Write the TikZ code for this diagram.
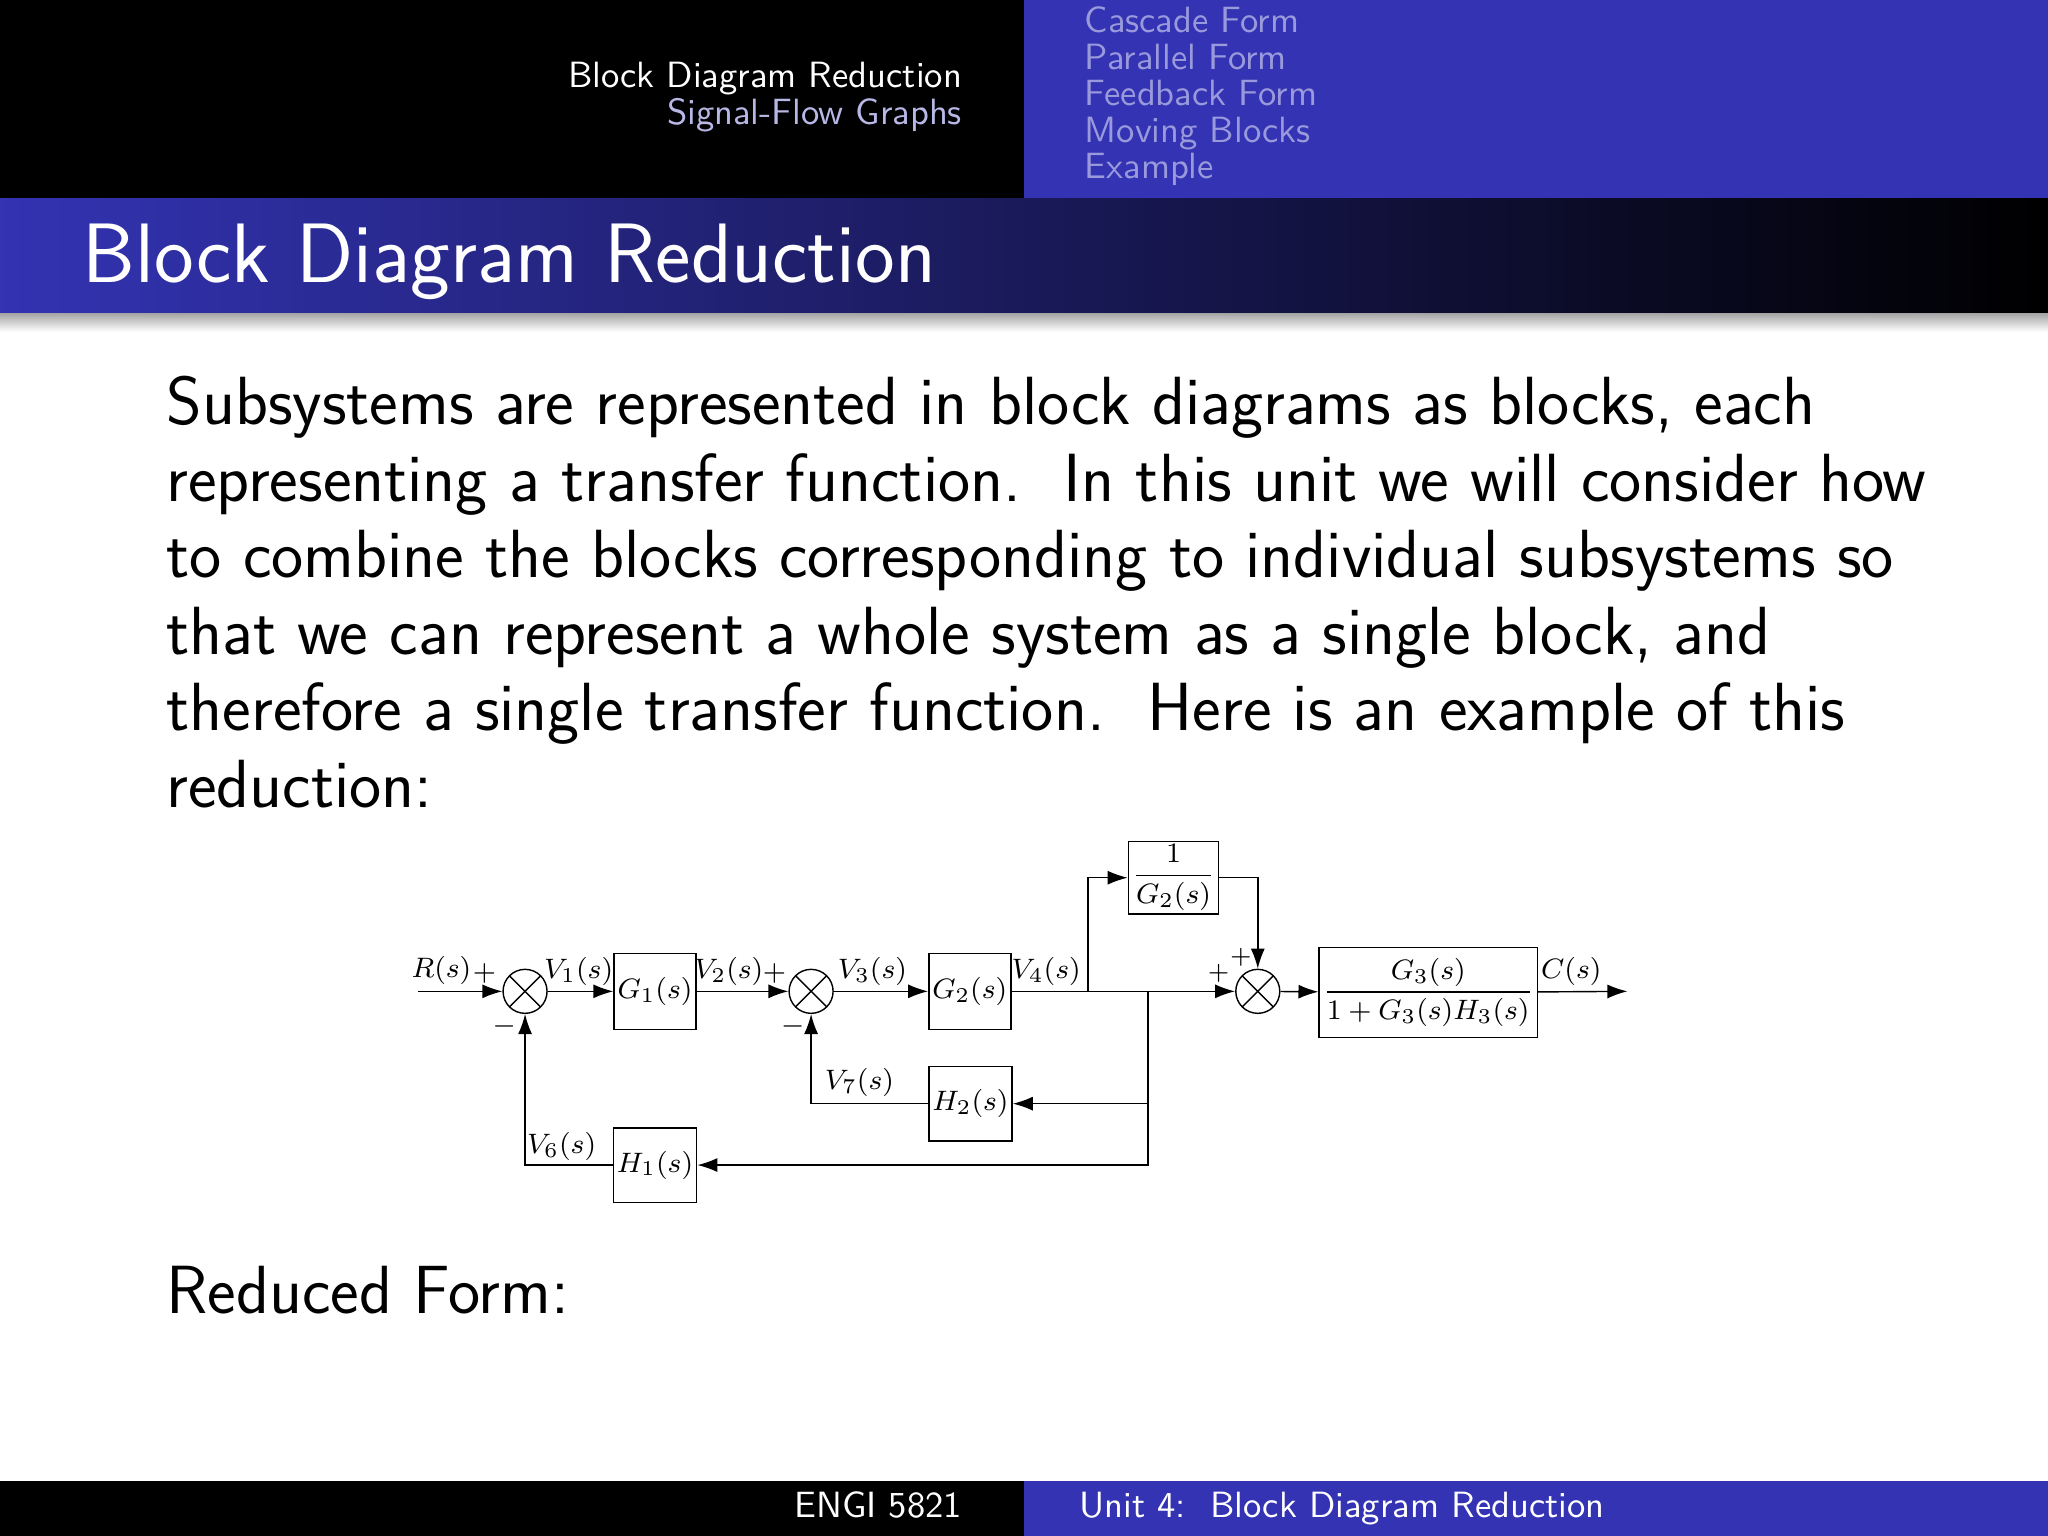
\documentclass[tikz,border=0pt]{standalone}
\usepackage{fontspec}
\setmainfont{Latin Modern Sans}
\usetikzlibrary{arrows.meta}
\definecolor{bblue}{RGB}{51,51,179}
\definecolor{lblue}{RGB}{153,153,220}
\begin{document}
\begin{tikzpicture}[x=0.013061cm,y=-0.013061cm,
  blk/.style={draw,fill=white,inner sep=1pt,font=\fontsize{8.5}{10}\selectfont},
  sumj/.style={draw,circle,minimum size=0.44cm,inner sep=0pt,
     path picture={\draw (path picture bounding box.north west)--(path picture bounding box.south east)
       (path picture bounding box.north east)--(path picture bounding box.south west);}},
  lab/.style={font=\fontsize{8.5}{10}\selectfont,inner sep=0pt},
  sg/.style={font=\fontsize{7}{8}\selectfont,inner sep=0pt},
  ar/.style={-{Latex[length=2mm,width=1.4mm]}},
  hd/.style={font=\fontsize{10.4}{12}\selectfont},
  bd/.style={font=\fontsize{19.4}{23}\selectfont,anchor=base west}]
\useasboundingbox (0,0) rectangle (1568,1176);
\fill[white] (0,0) rectangle (1568,1176);
% header
\fill[black] (0,0) rectangle (784,152);
\fill[bblue] (784,0) rectangle (1568,152);
\node[hd,white,anchor=base east] (h1) at (746,67) {Block Diagram Reduction};
\node[hd,lblue!70!white,anchor=base east] (h2) at (746,95) {Signal-Flow Graphs};
\foreach \t [count=\i] in {Cascade Form,Parallel Form,Feedback Form,Moving Blocks,Example}
  \node[hd,lblue,anchor=base west] (m\i) at (821,{-3+28*\i}) {\t};
% title bar
\shade[left color=bblue,right color=black] (0,152) rectangle (1568,240);
\shade[top color=black!35,bottom color=white] (0,240) rectangle (1568,254);
\node[font=\fontsize{24}{28}\selectfont,white,anchor=base west] (title) at (54,216) {Block Diagram Reduction};
% body
\foreach \t [count=\i] in {{Subsystems are represented in block diagrams as blocks, each},
 {representing a transfer function.\ \ In this unit we will consider how},
 {to combine the blocks corresponding to individual subsystems so},
 {that we can represent a whole system as a single block, and},
 {therefore a single transfer function.\ \ Here is an example of this},
 {reduction:}}
 \node[bd] (b\i) at (118,{325+58.6*(\i-1)}) {\t};
\node[bd] (rf) at (118,1006) {Reduced Form:};
% footer
\fill[black] (0,1134) rectangle (784,1176);
\fill[bblue] (784,1134) rectangle (1568,1176);
\node[hd,white,anchor=base east] (f1) at (746,1162) {ENGI 5821};
\node[hd,white,anchor=base west] (f2) at (817,1162) {Unit 4:\ \ Block Diagram Reduction};
% diagram
\coordinate (in) at (320,759);
\node[sumj] (s1) at (402,759) {};
\node[blk,minimum width=0.77cm,minimum height=0.76cm] (g1) at (501.5,759) {$G_1(s)$};
\node[sumj] (s2) at (621,759) {};
\node[blk,minimum width=0.77cm,minimum height=0.76cm] (g2) at (742.5,759) {$G_2(s)$};
\node[blk,minimum width=0.875cm,minimum height=0.705cm] (ig) at (898.5,672) {$\displaystyle\frac{1}{G_2(s)}$};
\node[sumj] (s3) at (963,759) {};
\node[blk,minimum width=1.84cm,minimum height=0.9cm] (g3) at (1093.5,760) {$\displaystyle\frac{G_3(s)}{1+G_3(s)H_3(s)}$};
\coordinate (out) at (1246,759);
\node[blk,minimum width=0.76cm,minimum height=0.745cm] (h2) at (743,845) {$H_2(s)$};
\node[blk,minimum width=0.77cm,minimum height=0.745cm] (h1) at (501.5,892) {$H_1(s)$};
\coordinate (br) at (833,759);
\coordinate (tp) at (879,759);
\draw[ar] (in)--(s1);
\draw[ar] (s1)--(g1);
\draw[ar] (g1)--(s2);
\draw[ar] (s2)--(g2);
\draw[ar] (g2)--(s3);
\draw[ar] (br)|-(ig);
\draw[ar] (ig.east)-|(s3.north);
\draw[ar] (s3)--(g3);
\draw[ar] (g3)--(out);
\draw[ar] (tp)|-(h2);
\draw[ar] (tp)|-(h1);
\draw[ar] (h2.west)-|(s2.south);
\draw[ar] (h1.west)-|(s1.south);
% labels
\node[lab] (lr) at (338,743) {$R(s)$};
\node[lab] (p1) at (371,745) {$+$};
\node[lab] (v1) at (443,744) {$V_1(s)$};
\node[lab] (v2) at (558,744) {$V_2(s)$};
\node[lab] (p2) at (593,745) {$+$};
\node[lab] (v3) at (668,744) {$V_3(s)$};
\node[lab] (v4) at (801,744) {$V_4(s)$};
\node[lab] (n1) at (386,786) {$-$};
\node[lab] (n2) at (607,786) {$-$};
\node[lab] (v7) at (658,829) {$V_7(s)$};
\node[lab] (v6) at (430,878) {$V_6(s)$};
\node[sg] (p3) at (933,745) {$+$};
\node[sg] (p4) at (950,733) {$+$};
\node[lab] (cs) at (1203,744) {$C(s)$};
\end{tikzpicture}
\end{document}
